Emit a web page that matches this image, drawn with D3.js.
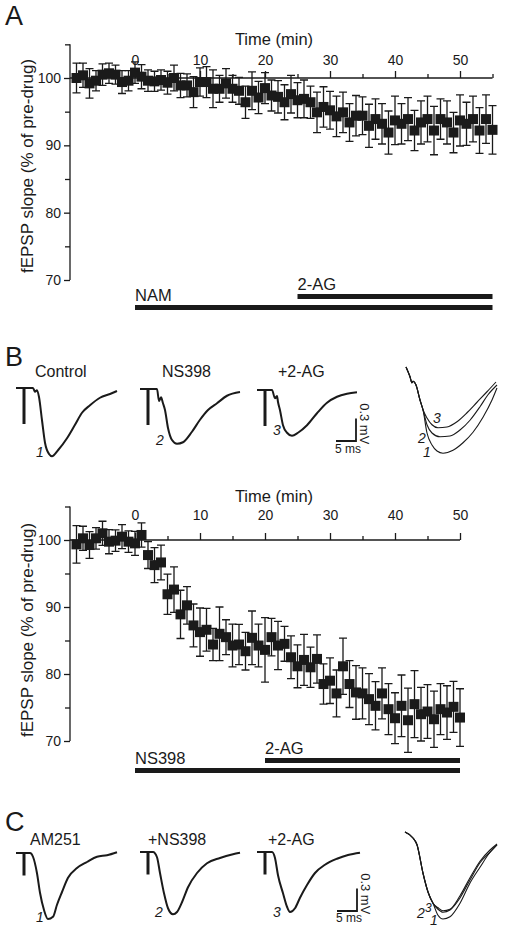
<!DOCTYPE html>
<html><head><meta charset="utf-8">
<script src="https://cdn.jsdelivr.net/npm/d3@7"></script>
<style>
html,body{margin:0;padding:0;background:#fff;}
svg{display:block;font-family:"Liberation Sans",Arial,Helvetica,sans-serif;}
</style></head>
<body>
<script>
// ---------------- DATA ----------------
// Panel A: time (min) and fEPSP slope (% of pre-drug), SEM
const timeA = d3.range(-9, 56); // sample times, 1-min bins
const slopeA = [100.0,100.4,99.2,99.6,100.5,100.7,100.5,99.4,99.6,100.8,
  100.2,99.6,99.5,99.7,99.3,100.0,98.9,98.9,97.9,99.4,
  99.4,98.4,98.4,99.2,98.4,98.1,96.4,98.1,97.1,98.5,
  97.4,97.2,96.4,97.6,96.7,96.9,96.4,94.9,95.7,95.2,
  94.3,94.9,93.4,94.4,94.4,92.9,93.9,93.2,91.9,93.7,
  93.2,93.9,92.2,93.4,93.9,92.2,93.9,93.4,91.9,93.7,
  93.2,93.9,92.2,93.9,92.3];
const semA = [2.2,1.8,2.2,1.5,1.6,1.5,1.4,1.7,1.5,1.6,
  1.8,1.6,1.5,1.5,1.7,1.9,1.8,1.7,2.3,2.1,
  2.3,2.8,2.0,2.2,2.0,2.0,2.4,2.8,2.4,2.3,
  2.3,2.4,2.6,2.8,2.6,2.8,2.4,3.0,3.0,2.8,
  3.0,3.0,2.8,3.0,2.8,3.2,3.0,3.0,3.2,3.6,
  3.0,3.2,3.0,3.2,3.4,3.6,3.0,3.2,3.0,3.8,
  3.2,3.4,3.4,3.6,3.6];
const drugsA = [{label:"NAM", start:0, end:55, row:0},{label:"2-AG", start:25, end:55, row:1}];

// Panel B
const timeB = d3.range(-9, 51);
const slopeB = [99.35,100.25,99.25,100.25,101.0,99.75,99.9,100.5,99.75,99.5,
  100.75,97.75,96.25,96.65,91.9,92.6,88.9,90.25,87.25,86.25,
  86.6,84.4,86.0,85.5,84.25,84.4,83.4,85.4,84.25,83.6,
  85.5,84.25,84.5,82.5,81.15,82.1,81.0,82.25,78.5,79.0,
  77.1,81.15,78.5,77.25,77.1,76.25,75.25,77.1,74.75,73.4,
  75.25,73.1,75.5,74.0,74.4,73.25,74.75,74.25,75.1,73.5];
const semB = [2.8,1.8,2.0,1.6,1.8,1.8,1.6,1.8,1.6,1.8,
  1.8,2.0,2.6,2.6,3.0,3.4,3.6,2.8,3.2,3.6,
  3.2,2.4,4.0,2.6,3.2,3.0,2.8,4.0,3.2,4.8,
  2.8,3.6,2.6,3.2,3.2,3.8,3.0,3.6,3.0,3.4,
  3.5,4.2,3.5,4.0,3.8,3.8,3.6,3.8,3.8,3.8,
  4.6,4.8,5.0,4.0,4.0,4.2,3.8,4.0,3.8,4.3];
const drugsB = [{label:"NS398", start:0, end:50, row:0},{label:"2-AG", start:20, end:50, row:1}];

const majorTicksX = [0,10,20,30,40,50];
const minorTicksX = [5,15,25,35,45,55];
const majorTicksY = [70,80,90,100];
const minorTicksY = [75,85,95,105];

// Field potential traces: [ms, mV]
const traceB1 = [[0,0],[4.25,0],[4.75,-0.05],[5.25,-0.03],[5.75,-0.12],[6.5,-0.43],[7.25,-0.73],[8.25,-0.88],[9,-0.91],[10.5,-0.83],[12.75,-0.67],[14.75,-0.49],[16.5,-0.33],[18.5,-0.23],[21,-0.13],[23.5,-0.08],[25.25,-0.04]];
const traceB2 = [[0,0],[4.25,0],[4.75,-0.16],[5.25,-0.11],[5.75,-0.19],[6.25,-0.28],[7,-0.52],[8,-0.68],[9.25,-0.73],[10.75,-0.71],[13,-0.57],[15,-0.41],[17,-0.28],[19.25,-0.19],[21.75,-0.09],[25,-0.04]];
const traceB3 = [[0,0],[3.75,0],[4.5,-0.11],[5,-0.08],[5.25,-0.16],[5.75,-0.27],[6.5,-0.47],[7.5,-0.57],[8.75,-0.61],[10.25,-0.57],[12.5,-0.47],[15,-0.31],[17.5,-0.17],[20,-0.09],[22.5,-0.05],[25,-0.03]];
const overlayBCommon = [[0,0],[1,-0.13],[1.5,-0.21],[1.75,-0.19],[2.5,-0.24],[3.5,-0.44],[4.25,-0.57]];
const overlayB3 = [[5.25,-0.68],[6.5,-0.77],[8,-0.81],[10.25,-0.8],[12.75,-0.73],[15.25,-0.61],[17.75,-0.47],[20.25,-0.33],[22.5,-0.2]];
const overlayB2 = [[5.25,-0.77],[6.5,-0.88],[8.5,-0.93],[11,-0.92],[13.5,-0.84],[16,-0.71],[18.5,-0.53],[20.5,-0.37],[22.75,-0.24]];
const overlayB1 = [[5.25,-0.88],[6.5,-1.04],[7.75,-1.12],[9.25,-1.15],[11.75,-1.11],[14.25,-1.01],[16.75,-0.87],[19.25,-0.67],[21.5,-0.44],[22.75,-0.28]];

const traceC1 = [[0,0],[3.5,0],[4.25,-0.05],[5.25,-0.27],[6,-0.53],[7,-0.76],[8,-0.88],[9.25,-0.85],[10.25,-0.69],[11.5,-0.52],[13,-0.33],[15.25,-0.2],[17.75,-0.12],[20.25,-0.05],[22.75,-0.03],[25.25,0.01]];
const traceC2 = [[0,0],[3.25,0],[4.25,-0.07],[5,-0.28],[6,-0.55],[7,-0.75],[8.25,-0.83],[9.25,-0.8],[10.5,-0.67],[12,-0.47],[14.25,-0.28],[16.75,-0.15],[20,-0.08],[23.25,-0.03],[25,-0.01]];
const traceC3 = [[0,0],[3.75,0],[4.5,-0.08],[5.25,-0.31],[6.5,-0.55],[7.5,-0.73],[8.25,-0.8],[9.5,-0.75],[10.75,-0.61],[12.5,-0.44],[14.5,-0.28],[17,-0.17],[20,-0.09],[22.75,-0.04],[25.75,-0.01]];
const overlayCCommon = [[0,0],[2,-0.08],[3,-0.17],[4.5,-0.55],[5.75,-0.8],[7,-0.95]];
const overlayC1 = [[8.25,-1.11],[9.5,-1.16],[11.25,-1.13],[13.75,-0.95],[16.25,-0.68],[18.75,-0.47],[21.25,-0.27],[23,-0.17]];
const overlayC2 = [[8.25,-1.03],[9.5,-1.07],[11.25,-1.04],[13.75,-0.88],[16.25,-0.64],[18.75,-0.41],[21.25,-0.27],[23,-0.17]];
const overlayC3 = [[8.25,-1.01],[9.5,-1.05],[11.25,-1.03],[13.75,-0.85],[16.25,-0.61],[18.75,-0.39],[21.25,-0.24],[23,-0.16]];
const artifactB = {t:2, depth:-0.48};
const artifactC = {t:2, depth:-0.3};
const titlesB = ["Control","NS398","+2-AG"];
const titlesC = ["AM251","+NS398","+2-AG"];
const scaleBar = {ms:5, mV:0.3};

// ---------------- DRAW ----------------
const W = 507, H = 936;
const svg = d3.select("body").append("svg").attr("width", W).attr("height", H);
const INK = "#1a1a1a";

function panelLetter(t, x, y){
  svg.append("text").attr("x", x).attr("y", y).attr("font-size", 27).attr("fill", INK).text(t);
}

function timePlot(opts){
  const {time, slope, sem, drugs, x, y, xEnd, timeLabelY, tickLabelY, ylabelY, barY} = opts;
  const g = svg.append("g");
  const yAxis = d3.axisLeft(y).tickValues(majorTicksY).tickSize(6).tickSizeOuter(0).tickPadding(3);
  const ga = g.append("g").attr("transform", `translate(${x(-10)},0)`).call(yAxis);
  ga.select(".domain").attr("d", `M0,${y(105)}V${y(70)}`);
  const yMinor = d3.axisLeft(y).tickValues(minorTicksY).tickSize(5).tickFormat("");
  const gm = g.append("g").attr("transform", `translate(${x(-10)},0)`).call(yMinor);
  gm.select(".domain").remove();
  const xAxis = d3.axisTop(x).tickValues(majorTicksX.filter(v=>v<=xEnd)).tickSize(7).tickSizeOuter(0).tickPadding(0).tickFormat(d3.format("d"));
  const gx = g.append("g").attr("transform", `translate(0,${y(100)})`).call(xAxis);
  gx.selectAll(".tick text").attr("y", tickLabelY - y(100)).attr("dy", 0);
  gx.select(".domain").attr("d", `M${x(-10)},0H${x(xEnd)}`);
  const xMinor = d3.axisTop(x).tickValues(minorTicksX.filter(v=>v<=xEnd)).tickSize(4).tickFormat("");
  const gxm = g.append("g").attr("transform", `translate(0,${y(100)})`).call(xMinor);
  gxm.select(".domain").remove();
  g.selectAll(".tick text").attr("font-size", 14).attr("fill", INK).attr("font-family", '"Liberation Sans",Arial,sans-serif');
  g.selectAll(".domain, .tick line").attr("stroke", INK).attr("stroke-width", 1.3);
  g.append("text").attr("x", 274).attr("y", timeLabelY).attr("text-anchor","middle")
    .attr("font-size", 16.5).attr("fill", INK).text("Time (min)");
  g.append("text").attr("transform", `translate(33,${ylabelY}) rotate(-90)`).attr("text-anchor","middle")
    .attr("font-size", 17).attr("fill", INK).text("fEPSP slope (% of pre-drug)");
  const pts = time.map((t,i)=>({t, v:slope[i], e:sem[i]}));
  const eb = g.append("g").attr("stroke", INK).attr("stroke-width", 1.3).attr("fill","none");
  eb.selectAll("path").data(pts).join("path")
    .attr("d", d=>{
      const cx = x(d.t), y1 = y(d.v + d.e), y2 = y(d.v - d.e);
      return `M${cx},${y1}V${y2}M${cx-4},${y1}H${cx+4}M${cx-4},${y2}H${cx+4}`;
    });
  g.append("g").selectAll("rect").data(pts).join("rect")
    .attr("x", d=>x(d.t)-5).attr("y", d=>y(d.v)-5).attr("width", 10).attr("height", 10)
    .attr("fill", INK);
  drugs.forEach(dr=>{
    const by = barY[dr.row];
    g.append("rect").attr("x", x(dr.start)).attr("y", by).attr("width", x(dr.end)-x(dr.start)).attr("height", 5).attr("fill", INK);
    g.append("text").attr("x", x(dr.start)).attr("y", by-4).attr("font-size", 16.5).attr("fill", INK).text(dr.label);
  });
}

const xA = d3.scaleLinear().domain([-10,55]).range([70,492.5]);
const yA = d3.scaleLinear().domain([70,100]).range([280,78]);
const xB = d3.scaleLinear().domain([-10,50]).range([70,460]);
const yB = d3.scaleLinear().domain([70,100]).range([741,540]);

panelLetter("A", 5, 25);
timePlot({time:timeA, slope:slopeA, sem:semA, drugs:drugsA, x:xA, y:yA, xEnd:55, timeLabelY:45, tickLabelY:65, ylabelY:166, barY:[305,294]});
panelLetter("B", 5, 366);
timePlot({time:timeB, slope:slopeB, sem:semB, drugs:drugsB, x:xB, y:yB, xEnd:50, timeLabelY:502, tickLabelY:520, ylabelY:630, barY:[768,758]});
panelLetter("C", 5, 831);

const tx = d3.scaleLinear().domain([0,1]).range([0,4]);     // ms -> px
const ty = d3.scaleLinear().domain([0,-1]).range([0,75]);   // mV -> px
const line = d3.line().x(d=>tx(d[0])).y(d=>ty(d[1])).curve(d3.curveMonotoneX);

function trace(data, ox, oy, art, width){
  const g = svg.append("g").attr("transform", `translate(${ox},${oy})`);
  g.append("path").attr("d", line(data)).attr("fill","none").attr("stroke", INK)
    .attr("stroke-width", width).attr("stroke-linejoin","round");
  if(art){
    g.append("line").attr("x1", tx(art.t)).attr("x2", tx(art.t)).attr("y1", 0).attr("y2", ty(art.depth))
      .attr("stroke", INK).attr("stroke-width", 3);
  }
  return g;
}
function label(t, x, y, size){
  svg.append("text").attr("x", x).attr("y", y).attr("font-size", size||14).attr("font-style","italic").attr("fill", INK).text(t);
}
function title(t, x, y){
  svg.append("text").attr("x", x).attr("y", y).attr("font-size", 16).attr("fill", INK).text(t);
}
function scaleBarAt(cx, cy, tyy){
  const g = svg.append("g");
  g.append("path").attr("d", `M${cx - tx(scaleBar.ms)},${cy}H${cx}V${cy - ty(-scaleBar.mV)}`)
    .attr("fill","none").attr("stroke", INK).attr("stroke-width", 1.8);
  g.append("text").attr("x", cx-21).attr("y", tyy).attr("font-size", 12).attr("fill", INK).text(`${scaleBar.ms} ms`);
  g.append("text").attr("transform", `translate(${cx+4},${cy - ty(-scaleBar.mV)/2 - 6}) rotate(90)`)
    .attr("text-anchor","middle").attr("font-size", 13).attr("fill", INK).text(`${scaleBar.mV} mV`);
}

title(titlesB[0], 35, 377); title(titlesB[1], 162, 377); title(titlesB[2], 278, 377);
trace(traceB1, 16, 388, artifactB, 2);
trace(traceB2, 140, 389, artifactB, 2);
trace(traceB3, 257, 390, artifactB, 2);
label("1", 36, 457); label("2", 156, 445); label("3", 273, 435);
scaleBarAt(356, 441, 453);
[overlayB1, overlayB2, overlayB3].forEach(o=>trace(overlayBCommon.concat(o), 406, 367, null, 1.1));
label("3", 433, 423); label("2", 418, 443); label("1", 423, 457);

title(titlesC[0], 30, 845); title(titlesC[1], 148, 845); title(titlesC[2], 268, 845);
trace(traceC1, 16, 853, artifactC, 2);
trace(traceC2, 140, 852, artifactC, 2);
trace(traceC3, 257, 852, artifactC, 2);
label("1", 36, 922); label("2", 155, 917); label("3", 273, 917);
scaleBarAt(357, 911, 922);
[overlayC1, overlayC2, overlayC3].forEach(o=>trace(overlayCCommon.concat(o), 405, 832, null, 1.1));
label("2", 417, 918); label("3", 425, 912, 12); label("1", 430, 925);
</script>
</body></html>
